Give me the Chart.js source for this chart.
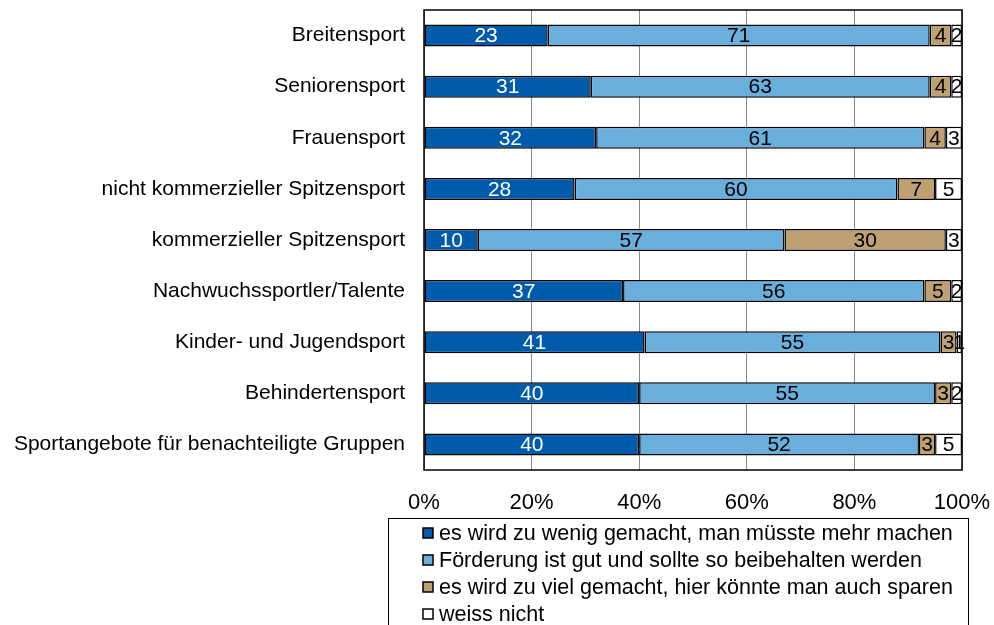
<!DOCTYPE html>
<html>
<head>
<meta charset="utf-8">
<script src="https://cdn.jsdelivr.net/npm/chart.js@4"></script>
<style>
  html, body { margin: 0; padding: 0; background: #fff; }
  #wrap { width: 994px; height: 625px; }
</style>
</head>
<body>
<div id="wrap"><canvas id="chart" width="994" height="625"></canvas></div>
<script>
// chart data
const categories = [
    'Breitensport',
    'Seniorensport',
    'Frauensport',
    'nicht kommerzieller Spitzensport',
    'kommerzieller Spitzensport',
    'Nachwuchssportler/Talente',
    'Kinder- und Jugendsport',
    'Behindertensport',
    'Sportangebote für benachteiligte Gruppen'
];
const seriesNames = [
    'es wird zu wenig gemacht, man müsste mehr machen',
    'Förderung ist gut und sollte so beibehalten werden',
    'es wird zu viel gemacht, hier könnte man auch sparen',
    'weiss nicht'
];
const zuWenig  = [23, 31, 32, 28, 10, 37, 41, 40, 40];
const gut      = [71, 63, 61, 60, 57, 56, 55, 55, 52];
const zuViel   = [4, 4, 4, 7, 30, 5, 3, 3, 3];
const weissNicht = [2, 2, 3, 5, 3, 2, 1, 2, 5];
const xTicks = [0, 20, 40, 60, 80, 100];

const colors = ['#005BAA', '#6AAEDC', '#BFA073', '#FFFFFF'];
const labelColors = ['#FFFFFF', '#000000', '#000000', '#000000'];
const FONT = '"Liberation Sans", Arial, sans-serif';

// value labels in the middle of each bar piece
const valueLabels = {
    id: 'valueLabels',
    afterDatasetsDraw(chart) {
        const ctx = chart.ctx;
        ctx.save();
        ctx.font = '21px ' + FONT;
        ctx.textAlign = 'center';
        ctx.textBaseline = 'middle';
        chart.data.datasets.forEach((ds, i) => {
            const meta = chart.getDatasetMeta(i);
            meta.data.forEach((bar, j) => {
                const p = bar.getCenterPoint();
                ctx.fillStyle = labelColors[i];
                ctx.fillText(String(ds.data[j]), p.x, p.y + 1);
            });
        });
        ctx.restore();
    }
};

// black frame round the plot area
const plotFrame = {
    id: 'plotFrame',
    afterDatasetsDraw(chart) {
        const a = chart.chartArea;
        const ctx = chart.ctx;
        ctx.save();
        ctx.strokeStyle = '#000';
        ctx.lineWidth = 1.5;
        ctx.strokeRect(a.left, a.top, a.right - a.left, a.bottom - a.top);
        ctx.restore();
    }
};

// boxed legend below the axis, one entry per line
const boxLegend = {
    id: 'boxLegend',
    afterDraw(chart) {
        const ctx = chart.ctx;
        ctx.save();
        ctx.strokeStyle = '#000';
        ctx.lineWidth = 1;
        ctx.strokeRect(388.5, 518.5, 580, 120);
        ctx.font = '21.5px ' + FONT;
        ctx.textBaseline = 'middle';
        ctx.textAlign = 'left';
        seriesNames.forEach((name, i) => {
            const y = 533 + i * 27;
            ctx.fillStyle = colors[i];
            ctx.fillRect(423, y - 5, 10, 10);
            ctx.lineWidth = 1.5;
            ctx.strokeRect(423, y - 5, 10, 10);
            ctx.fillStyle = '#000';
            ctx.fillText(name, 439, y + 1);
        });
        ctx.restore();
    }
};

const datasets = [zuWenig, gut, zuViel, weissNicht].map((values, i) => ({
    label: seriesNames[i],
    data: values,
    backgroundColor: colors[i],
    borderColor: '#000',
    borderWidth: 1.5,
    borderSkipped: false,
    barPercentage: 0.43,
    categoryPercentage: 1
}));

function noPadding(scale) {
    scale.paddingLeft = 0;
    scale.paddingRight = 0;
    scale.paddingTop = 0;
    scale.paddingBottom = 0;
}

new Chart(document.getElementById('chart'), {
    type: 'bar',
    data: { labels: categories, datasets: datasets },
    plugins: [valueLabels, plotFrame, boxLegend],
    options: {
        indexAxis: 'y',
        responsive: false,
        animation: false,
        layout: { padding: { left: 0, top: 10, right: 32, bottom: 0 } },
        plugins: {
            legend: { display: false },
            tooltip: { enabled: false }
        },
        scales: {
            x: {
                stacked: true,
                min: 0,
                max: 100,
                afterBuildTicks(scale) {
                    scale.ticks = xTicks.map(v => ({ value: v }));
                },
                afterFit(scale) {
                    scale.height = 155;
                    noPadding(scale);
                },
                grid: { color: '#888', lineWidth: 1, drawTicks: false },
                border: { display: false },
                ticks: {
                    padding: 20,
                    color: '#000',
                    maxRotation: 0,
                    font: { family: FONT, size: 22 },
                    callback: v => v + '%'
                }
            },
            y: {
                stacked: true,
                afterFit(scale) {
                    scale.width = 424;
                    noPadding(scale);
                },
                grid: { display: false, drawTicks: false },
                border: { display: false },
                ticks: {
                    padding: 19,
                    color: '#000',
                    font: { family: FONT, size: 21 }
                }
            }
        }
    }
});
</script>
</body>
</html>
